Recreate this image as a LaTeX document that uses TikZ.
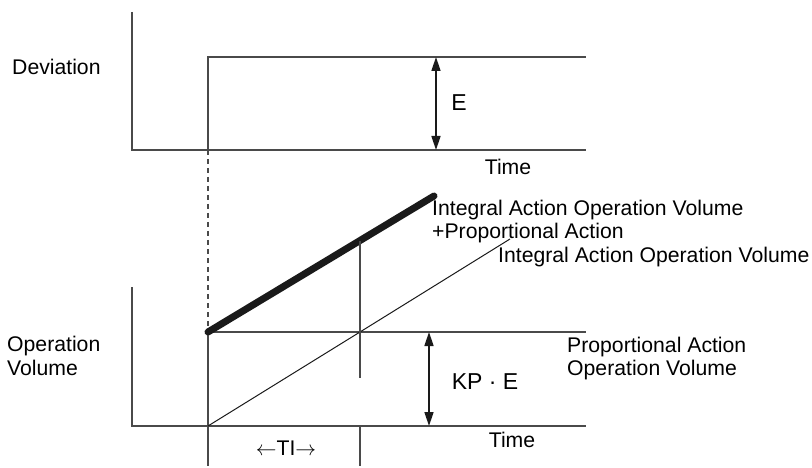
\documentclass[tikz,border=0pt]{standalone}
\usepackage{fontspec}
\setmainfont{Liberation Sans}
\usetikzlibrary{arrows.meta,positioning}
\definecolor{Ink}{HTML}{1A1A1A}
\definecolor{Axis}{HTML}{4A4A4A}
\tikzset{
  axis/.style={draw=Axis,line width=1.2pt},
  guide/.style={draw=Ink,line width=1pt},
  measure/.style={{Triangle[length=14pt,width=9pt]}-{Triangle[length=14pt,width=9pt]},line width=1.6pt,draw=Ink},
  response/.style={line width=7pt,draw=Ink,line cap=round},
  label/.style={font=\fontsize{21.2}{23.5}\selectfont,inner sep=0pt,align=left,anchor=west},
  biglabel/.style={font=\fontsize{23}{27}\selectfont,inner sep=0pt}
}

\begin{document}
\begin{tikzpicture}[x=1pt,y=-1pt]
  \useasboundingbox (0,0) rectangle (812,468);

  \coordinate (step) at (208,150);
  \coordinate (start) at (208,332);
  \coordinate (zero) at (208,426);
  \coordinate (reset) at (360,332);

  \draw[axis] (132,12) -- (132,150) -- (586,150);
  \draw[axis] (step) -- (208,57) -- (586,57);
  \draw[measure] (436,57) -- (436,150);
  \node[biglabel] (E) at (459,103) {E};
  \node[label,anchor=center] (timetop) at (508,167) {Time};
  \node[label] (deviation) at (12,67) {Deviation};

  \draw[axis,dash pattern=on 5pt off 4pt] (step) -- (start);
  \draw[axis] (132,287) -- (132,426) -- (586,426);
  \draw[axis] (start) -- (586,332);
  \draw[axis] (start) -- (208,466);
  \draw[guide] (zero) -- (reset) -- (510,239);
  \draw[response] (start) -- (434,196);
  \draw[axis] (360,241) -- (360,378);
  \draw[axis] (360,426) -- (360,466);
  \draw[measure] (429,332) -- (429,426);
  \node[biglabel] (kpe) at (485,382) {KP · E};
  \node[label,anchor=center] (timebottom) at (512,440) {Time};
  \node[label,anchor=center] (ti) at (286,448) {$\leftarrow$TI$\rightarrow$};

  \node[label] (opvolume) at (7,356) {Operation\\Volume};
  \node[label] (total) at (432,221.5) {Integral Action Operation Volume\\+Proportional Action};
  \node[label] (integral) at (498,257) {Integral Action Operation Volume};
  \node[label] (proportional) at (567,358.5) {Proportional Action\\Operation Volume};
\end{tikzpicture}
\end{document}
